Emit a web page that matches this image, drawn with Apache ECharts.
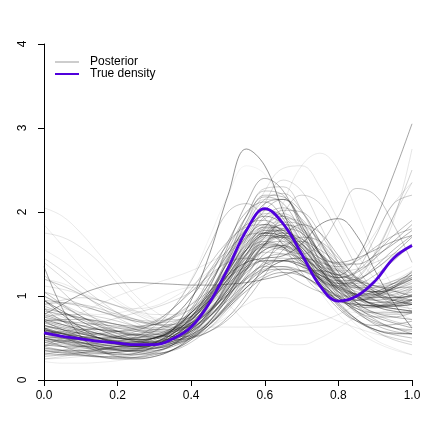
<!DOCTYPE html>
<html>
<head>
<meta charset="utf-8">
<script src="https://cdn.jsdelivr.net/npm/echarts@6/dist/echarts.min.js"></script>
<style>
html,body{margin:0;padding:0;background:#fff;}
#chart{width:436px;height:436px;}
</style>
</head>
<body>
<div id="chart"></div>
<script>
// grid of x positions the curves are read at
var xGrid=[0,0.05,0.1,0.15,0.2,0.25,0.3,0.35,0.4,0.45,0.5,0.55,0.6,0.65,0.7,0.75,0.8,0.85,0.9,0.95,1];
var xTicks=[0,0.2,0.4,0.6,0.8,1];
var yTicks=[0,1,2,3,4];

var trueDensity=[0.56,0.52,0.49,0.46,0.44,0.42,0.42,0.49,0.63,0.92,1.33,1.78,2.04,1.86,1.5,1.12,0.94,1.0,1.18,1.45,1.6];

// posterior draws, read by eye
var posteriorCurves=[
	[0.95,0.78,0.62,0.5,0.43,0.4,0.44,0.6,0.95,1.5,2.2,2.75,2.55,2.0,1.5,1.15,0.95,0.9,0.88,0.85,0.82],
	[0.62,0.56,0.5,0.46,0.43,0.42,0.45,0.55,0.75,1.05,1.4,1.7,1.85,1.78,1.58,1.35,1.25,1.45,1.9,2.45,3.05],
	[0.72,0.66,0.6,0.55,0.5,0.48,0.5,0.6,0.8,1.02,1.25,1.4,1.45,1.48,1.62,1.85,1.92,1.72,1.3,0.92,0.62],
	[0.78,0.9,1.02,1.1,1.15,1.16,1.15,1.14,1.13,1.13,1.14,1.16,1.2,1.25,1.3,1.3,1.25,1.18,1.12,1.06,1.0],
	[2.05,1.95,1.75,1.5,1.25,1.0,0.82,0.72,0.75,0.92,1.2,1.5,1.72,1.78,1.68,1.5,1.32,1.2,1.15,1.15,1.15],
	[1.75,1.7,1.58,1.4,1.15,0.92,0.72,0.62,0.65,0.85,1.15,1.48,1.68,1.7,1.55,1.35,1.22,1.22,1.32,1.48,1.62],
	[1.35,0.85,0.52,0.36,0.3,0.32,0.4,0.56,0.82,1.16,1.5,1.8,1.95,1.85,1.55,1.22,0.98,0.88,0.86,0.9,0.96],
	[0.5,0.46,0.42,0.4,0.38,0.37,0.38,0.42,0.5,0.62,0.82,1.12,1.56,2.1,2.55,2.7,2.5,2.0,1.5,1.1,0.8],
	[0.45,0.42,0.4,0.39,0.4,0.42,0.48,0.58,0.75,1.0,1.35,1.8,2.25,2.52,2.55,2.3,1.9,1.5,1.2,1.0,0.9],
	[0.3,0.3,0.32,0.35,0.4,0.48,0.62,0.85,1.2,1.7,2.2,2.55,2.45,2.05,1.55,1.15,0.9,0.8,0.8,0.85,0.9],
	[0.65,0.6,0.55,0.5,0.46,0.44,0.46,0.55,0.75,1.1,1.6,2.1,2.4,2.25,1.8,1.35,1.05,0.95,1.0,1.1,1.2],
	[0.9,0.85,0.8,0.78,0.8,0.85,0.95,1.05,1.1,1.05,0.9,0.68,0.5,0.42,0.42,0.5,0.62,0.75,0.82,0.8,0.72],
	[0.7,0.66,0.62,0.6,0.58,0.58,0.6,0.62,0.63,0.63,0.63,0.63,0.63,0.64,0.66,0.7,0.78,0.9,1.0,1.08,1.12],
	[0.5,0.46,0.43,0.4,0.38,0.37,0.38,0.42,0.5,0.62,0.76,0.9,0.98,0.98,0.9,0.8,0.7,0.62,0.55,0.5,0.45],
	[0.22,0.2,0.2,0.21,0.23,0.27,0.33,0.42,0.55,0.72,0.95,1.2,1.4,1.45,1.35,1.15,0.95,0.8,0.7,0.62,0.55],
	[0.35,0.32,0.3,0.28,0.27,0.27,0.3,0.36,0.48,0.66,0.9,1.15,1.35,1.42,1.38,1.25,1.1,0.98,0.9,0.85,0.82],
	[0.82,0.78,0.74,0.7,0.66,0.64,0.66,0.76,0.98,1.3,1.62,1.85,1.9,1.75,1.48,1.2,1.0,0.9,0.88,0.92,1.0],
	[1.05,0.9,0.76,0.64,0.55,0.48,0.44,0.44,0.5,0.66,0.92,1.25,1.5,1.58,1.48,1.28,1.08,0.88,0.72,0.62,0.58],
	[0.55,0.58,0.6,0.6,0.58,0.55,0.52,0.52,0.58,0.75,1.02,1.38,1.7,1.85,1.78,1.52,1.22,1.0,0.9,0.88,0.9],
	[0.45,0.4,0.36,0.33,0.31,0.31,0.34,0.42,0.62,0.98,1.45,1.95,2.25,2.2,1.85,1.42,1.1,0.92,0.88,0.95,1.08],
	[1.2,1.12,1.02,0.9,0.8,0.72,0.66,0.64,0.68,0.82,1.05,1.35,1.6,1.7,1.6,1.38,1.15,1.0,0.95,0.98,1.05],
	[0.6,0.52,0.45,0.4,0.36,0.34,0.35,0.4,0.5,0.66,0.86,1.06,1.22,1.28,1.24,1.12,0.98,0.85,0.75,0.68,0.62],
	[0.4,0.45,0.5,0.55,0.58,0.62,0.7,0.85,1.08,1.38,1.65,1.82,1.85,1.72,1.5,1.25,1.05,0.95,0.92,0.95,1.02],
	[0.88,0.8,0.72,0.64,0.58,0.54,0.54,0.6,0.74,0.98,1.3,1.62,1.82,1.8,1.62,1.42,1.35,1.42,1.58,1.72,1.8],
	[0.28,0.3,0.33,0.36,0.4,0.44,0.5,0.6,0.76,1.0,1.3,1.6,1.78,1.75,1.55,1.28,1.08,1.0,1.02,1.12,1.25],
	[0.7,0.6,0.52,0.46,0.42,0.4,0.42,0.5,0.66,0.95,1.35,1.78,2.1,2.15,1.9,1.5,1.15,0.92,0.8,0.75,0.72],
	[0.52,0.5,0.48,0.47,0.47,0.5,0.58,0.74,0.98,1.28,1.55,1.72,1.75,1.62,1.42,1.22,1.08,1.02,1.05,1.15,1.28],
	[1.4,1.22,1.04,0.88,0.74,0.64,0.58,0.58,0.64,0.78,0.98,1.2,1.38,1.45,1.42,1.35,1.3,1.32,1.4,1.5,1.58],
	[0.62,0.52,0.42,0.34,0.28,0.26,0.28,0.36,0.5,0.7,0.98,1.3,1.62,1.8,1.75,1.5,1.2,0.98,0.88,0.88,0.95],
	[0.38,0.35,0.33,0.32,0.33,0.36,0.42,0.52,0.7,1.0,1.42,1.88,2.2,2.18,1.85,1.4,1.02,0.8,0.68,0.62,0.6],
	[0.95,0.92,0.88,0.82,0.76,0.7,0.66,0.66,0.72,0.86,1.08,1.35,1.55,1.6,1.5,1.3,1.12,1.02,1.0,1.05,1.12],
	[0.5,0.44,0.39,0.35,0.32,0.3,0.31,0.36,0.48,0.7,1.02,1.42,1.8,2.02,2.0,1.75,1.4,1.12,0.95,0.9,0.92],
	[0.75,0.7,0.65,0.6,0.56,0.53,0.5,0.48,0.5,0.58,0.75,1.02,1.38,1.7,1.85,1.75,1.48,1.2,1.02,0.95,0.95],
	[0.58,0.55,0.52,0.5,0.49,0.5,0.54,0.62,0.76,0.95,1.15,1.32,1.42,1.42,1.35,1.25,1.18,1.2,1.32,1.5,1.7],
	[1.0,0.88,0.76,0.66,0.58,0.53,0.52,0.56,0.66,0.84,1.1,1.4,1.62,1.65,1.48,1.2,0.92,0.72,0.6,0.55,0.55],
	[0.42,0.4,0.38,0.37,0.37,0.38,0.42,0.5,0.66,0.92,1.25,1.55,1.72,1.65,1.42,1.2,1.1,1.2,1.5,1.95,2.5],
	[0.85,0.75,0.65,0.57,0.5,0.46,0.46,0.52,0.66,0.9,1.2,1.48,1.62,1.58,1.4,1.2,1.12,1.22,1.52,1.95,2.35],
	[0.32,0.33,0.35,0.37,0.4,0.44,0.5,0.58,0.72,0.95,1.28,1.58,1.75,1.7,1.48,1.22,1.08,1.15,1.45,1.9,2.75],
	[0.6,0.55,0.5,0.46,0.43,0.42,0.44,0.52,0.68,0.92,1.2,1.45,1.58,1.55,1.5,1.62,1.95,2.28,2.2,1.85,1.4],
	[0.95,0.82,0.7,0.6,0.52,0.46,0.44,0.48,0.6,0.82,1.12,1.42,1.6,1.56,1.38,1.18,1.12,1.3,1.7,2.1,2.2],
	[0.5,0.52,0.54,0.55,0.55,0.54,0.54,0.57,0.65,0.82,1.08,1.38,1.58,1.6,1.48,1.35,1.32,1.45,1.75,2.1,2.35],
	[0.38,0.36,0.35,0.34,0.35,0.37,0.42,0.52,0.7,0.98,1.32,1.62,1.78,1.72,1.48,1.18,0.92,0.72,0.58,0.48,0.42],
	[0.75,0.66,0.58,0.5,0.44,0.4,0.38,0.42,0.55,0.8,1.15,1.55,1.85,1.88,1.62,1.25,0.95,0.72,0.58,0.5,0.45],
	[0.3,0.3,0.3,0.31,0.33,0.36,0.42,0.52,0.68,0.9,1.18,1.45,1.62,1.6,1.42,1.15,0.88,0.65,0.48,0.38,0.3],
	[0.65,0.6,0.55,0.5,0.46,0.44,0.44,0.48,0.58,0.76,1.02,1.32,1.55,1.6,1.45,1.2,0.98,0.82,0.7,0.62,0.55],
	[0.6,0.7,0.8,0.9,1.0,1.08,1.15,1.22,1.3,1.4,1.52,1.65,1.75,1.75,1.65,1.48,1.3,1.15,1.05,1.0,0.98],
	[1.2,1.15,1.05,0.95,0.88,0.85,0.88,0.98,1.12,1.3,1.5,1.7,1.82,1.82,1.68,1.45,1.2,1.0,0.88,0.82,0.8],
	[0.9,0.92,0.9,0.85,0.78,0.72,0.7,0.74,0.85,1.05,1.35,1.68,1.92,1.98,1.82,1.52,1.22,1.0,0.9,0.88,0.9],
	[1.45,1.3,1.12,0.95,0.8,0.68,0.6,0.6,0.68,0.88,1.18,1.55,1.85,1.95,1.8,1.5,1.2,1.0,0.92,0.95,1.02],
	[0.32,0.3,0.29,0.28,0.28,0.3,0.34,0.42,0.56,0.76,1.0,1.22,1.35,1.35,1.25,1.1,0.95,0.85,0.8,0.8,0.82],
	[0.58,0.52,0.47,0.43,0.4,0.38,0.38,0.42,0.52,0.7,0.98,1.32,1.62,1.75,1.68,1.5,1.38,1.38,1.48,1.62,1.78],
	[0.72,0.7,0.68,0.66,0.64,0.62,0.62,0.66,0.76,0.96,1.28,1.68,2.02,2.15,2.0,1.65,1.28,1.02,0.88,0.82,0.8],
	[0.25,0.26,0.28,0.3,0.33,0.37,0.42,0.5,0.62,0.8,1.05,1.32,1.55,1.62,1.55,1.38,1.2,1.1,1.08,1.15,1.25],
	[1.05,0.98,0.9,0.82,0.75,0.7,0.68,0.7,0.78,0.95,1.2,1.5,1.75,1.85,1.75,1.5,1.25,1.1,1.05,1.1,1.2],
	[0.55,0.5,0.45,0.4,0.36,0.33,0.32,0.35,0.45,0.62,0.85,1.1,1.3,1.42,1.45,1.38,1.25,1.12,1.02,0.95,0.9],
	[0.85,0.7,0.58,0.5,0.46,0.46,0.5,0.6,0.8,1.12,1.55,1.95,2.18,2.1,1.75,1.32,1.0,0.82,0.75,0.75,0.8],
	[0.4,0.5,0.58,0.62,0.62,0.6,0.58,0.6,0.68,0.82,1.02,1.22,1.38,1.42,1.38,1.28,1.18,1.12,1.12,1.18,1.25],
	[1.25,1.05,0.85,0.7,0.58,0.5,0.46,0.48,0.58,0.78,1.1,1.48,1.82,1.95,1.82,1.5,1.18,0.98,0.9,0.9,0.95],
	[0.3,0.35,0.4,0.45,0.5,0.55,0.6,0.68,0.8,0.98,1.2,1.4,1.52,1.5,1.38,1.2,1.02,0.88,0.78,0.7,0.65],
	[0.62,0.62,0.64,0.68,0.74,0.8,0.86,0.94,1.05,1.22,1.45,1.68,1.82,1.78,1.58,1.32,1.12,1.02,1.02,1.1,1.22],
	[1.0,0.9,0.8,0.72,0.66,0.64,0.66,0.74,0.9,1.15,1.5,1.88,2.15,2.15,1.88,1.48,1.15,0.98,0.95,1.0,1.08],
	[0.48,0.4,0.33,0.28,0.25,0.25,0.28,0.36,0.52,0.8,1.18,1.55,1.75,1.7,1.5,1.3,1.22,1.28,1.45,1.65,1.85],
	[0.7,0.72,0.72,0.7,0.66,0.6,0.55,0.52,0.52,0.58,0.72,0.95,1.25,1.55,1.7,1.65,1.45,1.22,1.05,0.98,1.0],
	[0.55,0.48,0.42,0.38,0.36,0.36,0.4,0.5,0.7,1.02,1.48,1.95,2.28,2.3,2.02,1.58,1.18,0.92,0.8,0.78,0.8],
	[0.9,0.95,0.98,0.95,0.88,0.78,0.68,0.62,0.64,0.76,1.0,1.32,1.6,1.72,1.65,1.45,1.25,1.1,1.05,1.05,1.08],
	[1.55,1.42,1.25,1.08,0.92,0.8,0.72,0.7,0.75,0.9,1.15,1.45,1.68,1.75,1.65,1.45,1.28,1.18,1.18,1.25,1.35],
	[0.35,0.33,0.32,0.32,0.33,0.35,0.38,0.44,0.54,0.7,0.9,1.1,1.25,1.32,1.3,1.22,1.12,1.02,0.95,0.92,0.92],
	[0.62,0.55,0.48,0.43,0.4,0.4,0.44,0.55,0.75,1.05,1.45,1.85,2.15,2.22,2.02,1.65,1.28,1.02,0.88,0.82,0.8],
	[0.78,0.7,0.62,0.55,0.5,0.48,0.5,0.58,0.72,0.95,1.25,1.55,1.72,1.68,1.45,1.15,0.88,0.7,0.6,0.56,0.55],
	[0.45,0.47,0.48,0.48,0.47,0.46,0.46,0.5,0.6,0.8,1.08,1.42,1.72,1.88,1.85,1.65,1.4,1.22,1.12,1.1,1.1],
	[1.12,1.08,1.02,0.95,0.88,0.82,0.78,0.78,0.84,0.98,1.2,1.45,1.65,1.7,1.58,1.38,1.2,1.1,1.1,1.18,1.3],
	[0.58,0.5,0.44,0.4,0.38,0.38,0.42,0.52,0.72,1.02,1.42,1.8,2.02,1.95,1.65,1.32,1.15,1.18,1.35,1.55,1.72],
	[0.52,0.5,0.5,0.5,0.52,0.54,0.58,0.66,0.8,1.0,1.25,1.5,1.62,1.58,1.42,1.25,1.15,1.15,1.25,1.42,1.62],
	[0.68,0.62,0.56,0.5,0.45,0.42,0.42,0.46,0.54,0.68,0.88,1.1,1.3,1.42,1.45,1.4,1.3,1.18,1.08,1.0,0.95],
	[0.4,0.35,0.3,0.27,0.26,0.27,0.32,0.42,0.6,0.9,1.3,1.72,1.98,1.95,1.7,1.35,1.08,0.95,0.98,1.1,1.3],
	[0.85,0.8,0.74,0.68,0.62,0.58,0.56,0.58,0.66,0.82,1.08,1.4,1.65,1.72,1.58,1.32,1.05,0.82,0.66,0.58,0.55],
	[0.25,0.28,0.32,0.36,0.4,0.45,0.5,0.58,0.72,0.92,1.2,1.5,1.7,1.7,1.52,1.28,1.1,1.02,1.05,1.15,1.28],
	[0.95,0.82,0.7,0.6,0.52,0.46,0.44,0.46,0.56,0.75,1.02,1.35,1.62,1.72,1.62,1.4,1.18,1.05,1.02,1.1,1.25],
	[0.5,0.45,0.41,0.38,0.36,0.35,0.37,0.44,0.58,0.82,1.15,1.5,1.75,1.78,1.62,1.45,1.4,1.45,1.55,1.65,1.72],
	[0.75,0.78,0.78,0.75,0.7,0.64,0.6,0.6,0.66,0.82,1.08,1.42,1.75,1.92,1.88,1.65,1.35,1.12,1.0,0.98,1.0],
	[0.6,0.55,0.5,0.46,0.44,0.44,0.48,0.6,0.85,1.22,1.65,2.0,2.12,1.92,1.52,1.12,0.85,0.7,0.65,0.66,0.7],
	[1.85,1.6,1.35,1.12,0.95,0.82,0.74,0.72,0.76,0.9,1.12,1.42,1.7,1.85,1.8,1.6,1.35,1.15,1.05,1.02,1.05],
	[0.42,0.4,0.4,0.41,0.43,0.46,0.5,0.58,0.72,0.95,1.28,1.65,1.95,2.05,1.92,1.62,1.32,1.12,1.05,1.08,1.18],
	[0.65,0.58,0.52,0.47,0.43,0.4,0.4,0.44,0.52,0.66,0.88,1.15,1.42,1.6,1.65,1.55,1.38,1.2,1.05,0.95,0.9],
	[0.55,0.56,0.56,0.55,0.52,0.5,0.5,0.54,0.62,0.76,0.95,1.15,1.3,1.32,1.25,1.12,1.0,0.92,0.88,0.88,0.9],
	[0.7,0.64,0.58,0.53,0.5,0.48,0.5,0.56,0.68,0.84,1.02,1.2,1.32,1.35,1.3,1.2,1.1,1.02,0.98,0.98,1.0],
	[0.55,0.52,0.5,0.5,0.52,0.58,0.68,0.85,1.05,1.25,1.4,1.45,1.4,1.28,1.15,1.05,1.0,1.0,1.05,1.12,1.2],
	[0.5,0.46,0.44,0.44,0.46,0.52,0.64,0.85,1.18,1.6,2.0,2.1,1.92,1.6,1.28,1.05,0.95,0.95,1.02,1.12,1.22],
	[0.6,0.56,0.52,0.48,0.45,0.43,0.43,0.46,0.54,0.68,0.9,1.22,1.6,1.98,2.2,2.1,1.75,1.35,1.05,0.9,0.85],
	[0.52,0.48,0.45,0.42,0.4,0.4,0.42,0.48,0.6,0.82,1.15,1.6,2.1,2.38,2.25,1.85,1.4,1.1,0.95,0.92,0.95],
	[0.6,0.55,0.5,0.46,0.43,0.42,0.44,0.52,0.68,0.92,1.25,1.58,1.8,1.75,1.5,1.18,0.9,0.72,0.6,0.54,0.5],
	[0.5,0.47,0.44,0.42,0.4,0.4,0.42,0.5,0.65,0.9,1.22,1.55,1.75,1.7,1.5,1.3,1.22,1.3,1.5,1.72,1.9],
	[0.45,0.42,0.4,0.38,0.38,0.4,0.45,0.55,0.72,0.95,1.25,1.52,1.65,1.58,1.35,1.05,0.78,0.58,0.45,0.36,0.3],
	[0.8,0.72,0.65,0.6,0.58,0.6,0.66,0.76,0.9,1.06,1.22,1.35,1.42,1.42,1.35,1.25,1.15,1.1,1.1,1.15,1.22],
	[0.48,0.44,0.4,0.37,0.35,0.35,0.38,0.46,0.6,0.8,1.05,1.28,1.45,1.5,1.45,1.32,1.18,1.08,1.05,1.08,1.15],
	[0.36,0.35,0.35,0.36,0.38,0.42,0.5,0.62,0.8,1.05,1.32,1.55,1.65,1.58,1.4,1.2,1.05,0.98,0.98,1.02,1.1]
];
// darkness of each posterior draw
var curveAlpha=[0.6,0.5,0.6,0.5,0.12,0.15,0.5,0.12,0.15,0.08,
	0.45,0.1,0.15,0.12,0.1,0.4,0.35,0.35,0.4,0.3,
	0.3,0.45,0.3,0.35,0.3,0.45,0.35,0.2,0.4,0.35,
	0.3,0.3,0.4,0.45,0.35,0.25,0.2,0.15,0.3,0.3,
	0.15,0.25,0.15,0.1,0.35,0.12,0.12,0.25,0.2,0.35,
	0.45,0.35,0.15,0.25,0.3,0.35,0.3,0.25,0.25,0.2,
	0.2,0.4,0.35,0.25,0.2,0.1,0.35,0.25,0.45,0.3,
	0.15,0.4,0.3,0.4,0.3,0.35,0.2,0.35,0.45,0.25,
	0.4,0.1,0.3,0.35,0.4,0.35,0.3,0.3,0.25,0.2,
	0.35,0.35,0.1,0.3,0.35,0.3];

var font='"Liberation Sans", Arial, Helvetica, sans-serif';

function pairs(ys){
	var out=[];
	for(var i=0;i<xGrid.length;i++){
		out.push([xGrid[i],ys[i]]);
	}
	return out;
}

var series=[];
for(var k=0;k<posteriorCurves.length;k++){
	series.push({
		name:'Posterior',
		type:'line',
		data:pairs(posteriorCurves[k]),
		smooth:0.4,
		symbol:'none',
		silent:true,
		lineStyle:{color:'rgba(30,30,30,'+curveAlpha[k]+')',width:0.8},
		itemStyle:{color:'#9a9a9a'},
		z:2
	});
}
series.push({
	name:'True density',
	type:'line',
	data:pairs(trueDensity),
	smooth:0.4,
	symbol:'none',
	lineStyle:{color:'#5000dc',width:2.8},
	itemStyle:{color:'#5000dc'},
	z:5
});

var chart=echarts.init(document.getElementById('chart'),null,{renderer:'canvas'});
chart.setOption({
	animation:false,
	backgroundColor:'#fff',
	grid:{left:44,right:24,top:44,bottom:56,containLabel:false},
	legend:{
		orient:'vertical',
		left:55,
		top:56,
		padding:0,
		itemWidth:24,
		itemHeight:14,
		itemGap:0,
		textStyle:{fontFamily:font,fontSize:12,color:'#000',padding:[0,0,0,6]},
		data:[
			{name:'Posterior',icon:'path://M0,0L24,0L24,1L0,1Z',itemStyle:{color:'#9a9a9a'}},
			{name:'True density',icon:'path://M0,0L24,0L24,2L0,2Z',itemStyle:{color:'#5000dc'}}
		]
	},
	xAxis:{
		type:'value',
		min:xTicks[0],
		max:xTicks[xTicks.length-1],
		interval:0.2,
		splitLine:{show:false},
		axisLine:{show:true,lineStyle:{color:'#000',width:1}},
		axisTick:{show:true,length:6,inside:false,lineStyle:{color:'#000'}},
		axisLabel:{fontFamily:font,fontSize:12,color:'#000',margin:10,
			formatter:function(v){return v.toFixed(1);}}
	},
	yAxis:{
		type:'value',
		min:yTicks[0],
		max:yTicks[yTicks.length-1],
		interval:1,
		splitLine:{show:false},
		axisLine:{show:true,lineStyle:{color:'#000',width:1}},
		axisTick:{show:true,length:6,inside:false,lineStyle:{color:'#000'}},
		axisLabel:{fontFamily:font,fontSize:12,color:'#000',margin:15,rotate:90}
	},
	series:series
});
</script>
</body>
</html>
